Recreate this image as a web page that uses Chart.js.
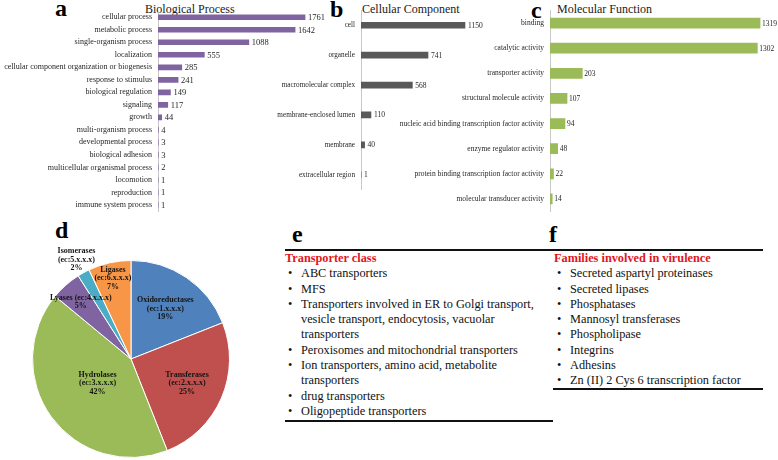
<!DOCTYPE html>
<html>
<head>
<meta charset="utf-8">
<script src="https://cdn.jsdelivr.net/npm/chart.js@4.4.0/dist/chart.umd.min.js"></script>
<style>
  body { margin: 0; width: 778px; height: 460px; overflow: hidden; background: #fff; position: relative; font-family: "Liberation Serif", "Times New Roman", serif; }
  canvas { position: absolute; }
  .lbl { position: absolute; line-height: 1; white-space: nowrap; color: #000; }
  .letter { font-weight: bold; font-size: 24px; }
  .title { font-size: 12px; color: #1a1a1a; }
  .rule { position: absolute; height: 1.5px; background: #111; }
  .box { position: absolute; font-size: 12.3px; line-height: 15.3px; color: #111; }
  .box .head { color: #e2161b; font-weight: bold; }
  .box .item { position: relative; padding-left: 16px; }
  .box .item:before { content: "\2022"; position: absolute; left: 3px; }
</style>
</head>
<body>

<div class="lbl letter" style="left:55px; top:-4px;">a</div>
<div class="lbl letter" style="left:330px; top:-3px;">b</div>
<div class="lbl letter" style="left:531px; top:-2px;">c</div>
<div class="lbl letter" style="left:55px; top:218px;">d</div>
<div class="lbl letter" style="left:292px; top:222px;">e</div>
<div class="lbl letter" style="left:549px; top:222px;">f</div>

<div class="lbl title" style="left:145px; top:3px;">Biological Process</div>
<div class="lbl title" style="left:362px; top:3px;">Cellular Component</div>
<div class="lbl title" style="left:557px; top:3px;">Molecular Function</div>

<canvas id="bpChart" width="340" height="222" style="left:0; top:0;"></canvas>
<canvas id="ccChart" width="230" height="200" style="left:270px; top:0;"></canvas>
<canvas id="mfChart" width="383" height="222" style="left:395px; top:0;"></canvas>
<canvas id="ecChart" width="222" height="222" style="left:20px; top:238px;"></canvas>

<div class="rule" style="left:285px; top:249px; width:268px;"></div>
<div class="rule" style="left:553px; top:249px; width:210px;"></div>
<div class="rule" style="left:285px; top:420px; width:268px;"></div>
<div class="rule" style="left:553px; top:388px; width:210px;"></div>
<div class="box" id="transBox" style="left:285px; top:251px; width:262px;"></div>
<div class="box" id="virBox" style="left:554px; top:251px; width:215px;"></div>

<script>
// a - Biological Process
let bp_names = ["cellular process", "metabolic process", "single-organism process", "localization",
  "cellular component organization or biogenesis", "response to stimulus", "biological regulation",
  "signaling", "growth", "multi-organism process", "developmental process", "biological adhesion",
  "multicellular organismal process", "locomotion", "reproduction", "immune system process"];
let bp_counts = [1761, 1642, 1088, 555, 285, 241, 149, 117, 44, 4, 3, 3, 2, 1, 1, 1];

// b - Cellular Component
let cc_names = ["cell", "organelle", "macromolecular complex", "membrane-enclosed lumen", "membrane", "extracellular region"];
let cc_counts = [1150, 741, 568, 110, 40, 1];

// c - Molecular Function
let mf_names = ["binding", "catalytic activity", "transporter activity", "structural molecule activity",
  "nucleic acid binding transcription factor activity", "enzyme regulator activity",
  "protein binding transcription factor activity", "molecular transducer activity"];
let mf_counts = [1319, 1302, 203, 107, 94, 48, 22, 14];

// d - enzyme classes
let ec_names = ["Oxidoreductases", "Transferases", "Hydrolases", "Lyases", "Isomerases", "Ligases"];
let ec_codes = ["(ec:1.x.x.x)", "(ec:2.x.x.x)", "(ec:3.x.x.x)", "(ec:4.x.x.x)", "(ec:5.x.x.x)", "(ec:6.x.x.x)"];
let ec_percent = [19, 25, 42, 5, 2, 7];

// e, f - tables
let transporter_classes = ["ABC transporters", "MFS",
  "Transporters involved in ER to Golgi transport, vesicle transport, endocytosis, vacuolar transporters",
  "Peroxisomes and mitochondrial transporters", "Ion transporters, amino acid, metabolite transporters",
  "drug transporters", "Oligopeptide transporters"];
let virulence_families = ["Secreted aspartyl proteinases", "Secreted lipases", "Phosphatases",
  "Mannosyl transferases", "Phospholipase", "Integrins", "Adhesins", "Zn (II) 2 Cys 6 transcription factor"];


const valueLabels = {
  id: "valueLabels",
  afterDatasetsDraw(chart, args, opts) {
    const ctx = chart.ctx;
    const values = chart.data.datasets[0].data;
    ctx.save();
    ctx.font = opts.size + "px 'Liberation Serif'";
    ctx.fillStyle = "#262626";
    ctx.textBaseline = "middle";
    chart.getDatasetMeta(0).data.forEach((bar, i) => {
      ctx.fillText(values[i], bar.x + opts.gap, bar.y + 0.5);
    });
    ctx.restore();
  }
};

function goBars(id, names, counts, color, thick, axisWidth, max, pad, fontSize, valSize, gap) {
  return new Chart(id, {
    type: "bar",
    data: {
      labels: names,
      datasets: [{ data: counts, backgroundColor: color, barThickness: thick }]
    },
    options: {
      indexAxis: "y",
      responsive: false,
      animation: false,
      layout: { padding: pad },
      plugins: {
        legend: { display: false },
        tooltip: { enabled: false },
        valueLabels: { size: valSize, gap: gap }
      },
      scales: {
        x: { display: false, min: 0, max: max },
        y: {
          grid: { display: false, drawTicks: false },
          border: { display: true, color: "#c8c8c8", width: 1 },
          ticks: { color: "#262626", padding: 6, autoSkip: false, font: { family: "Liberation Serif", size: fontSize } },
          afterFit(scale) { scale.width = axisWidth; }
        }
      }
    },
    plugins: [valueLabels]
  });
}

goBars("bpChart", bp_names, bp_counts, "#8064a2", 5, 158, 2060, { top: 11, bottom: 7, left: 0, right: 10 }, 8, 8.5, 3);
goBars("ccChart", cc_names, cc_counts, "#595959", 6, 91, 1482, { top: 1, bottom: 4, left: 0, right: 5 }, 7.2, 7.5, 3);
goBars("mfChart", mf_names, mf_counts, "#9bbb59", 10, 155, 1350, { top: 6, bottom: 6, left: 0, right: 13 }, 7.5, 7.5, 2);


// pie labels sit along each slice's middle angle
const labelRadius = [0.62, 0.62, 0.42, 0.77, 1.15, 0.84];

const pieLabels = {
  id: "pieLabels",
  afterDatasetsDraw(chart) {
    const ctx = chart.ctx;
    ctx.save();
    ctx.font = "bold 8px 'Liberation Serif'";
    ctx.fillStyle = "#141414";
    ctx.textAlign = "center";
    ctx.textBaseline = "middle";
    chart.getDatasetMeta(0).data.forEach((arc, i) => {
      const mid = (arc.startAngle + arc.endAngle) / 2;
      const r = arc.outerRadius * labelRadius[i];
      const x = arc.x + Math.cos(mid) * r;
      const y = arc.y + Math.sin(mid) * r;
      let lines = [ec_names[i], ec_codes[i], ec_percent[i] + "%"];
      if (ec_names[i] == "Lyases") lines = [ec_names[i] + " " + ec_codes[i], ec_percent[i] + "%"];
      const lh = 8.5;
      lines.forEach((t, k) => {
        ctx.fillText(t, x, y + (k - (lines.length - 1) / 2) * lh);
      });
    });
    ctx.restore();
  }
};

new Chart("ecChart", {
  type: "pie",
  data: {
    labels: ec_names,
    datasets: [{
      data: ec_percent,
      backgroundColor: ["#4f81bd", "#c0504d", "#9bbb59", "#8064a2", "#4bacc6", "#f79646"],
      borderColor: "#ffffff",
      borderWidth: 1
    }]
  },
  options: {
    responsive: false,
    animation: false,
    layout: { padding: { left: 12, right: 12, top: 22, bottom: 2 } },
    plugins: { legend: { display: false }, tooltip: { enabled: false } }
  },
  plugins: [pieLabels]
});


function fillBox(id, head, items) {
  let html = `<div class="head">${head}</div>`;
  items.forEach(t => { html += `<div class="item">${t}</div>`; });
  document.getElementById(id).innerHTML = html;
}
fillBox("transBox", "Transporter class", transporter_classes);
fillBox("virBox", "Families involved in virulence", virulence_families);
</script>
</body>
</html>
